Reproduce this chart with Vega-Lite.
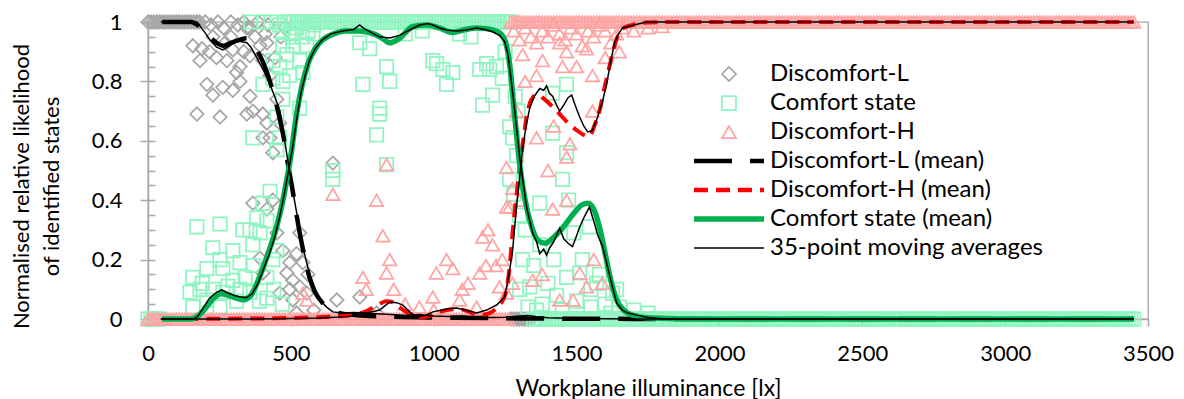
{
"$schema": "https://vega.github.io/schema/vega-lite/v6.json",
"width": 1000, "height": 297, "autosize": "none",
"padding": {"left": 148, "top": 22, "right": 36, "bottom": 80},
"datasets": {
"L": [{"x":0,"y":1},{"x":10,"y":1},{"x":20,"y":1},{"x":30,"y":1},{"x":40,"y":1},{"x":50,"y":1},{"x":60,"y":1},{"x":70,"y":1},{"x":80,"y":1},{"x":90,"y":1},{"x":100,"y":1},{"x":110,"y":1},{"x":120,"y":1},{"x":130,"y":1},{"x":140,"y":1},{"x":150,"y":1},{"x":160,"y":1},{"x":170,"y":1},{"x":180,"y":1},
{"x":200,"y":1},{"x":220,"y":0.99},{"x":245,"y":1},{"x":265,"y":0.98},{"x":290,"y":1},{"x":315,"y":0.99},{"x":335,"y":1},{"x":355,"y":0.98},{"x":385,"y":1},{"x":420,"y":0.99},
{"x":157,"y":0.92},{"x":171,"y":0.69},{"x":182,"y":0.87},{"x":189,"y":0.91},{"x":206,"y":0.79},{"x":215,"y":0.9},{"x":227,"y":0.754},{"x":227,"y":0.95},{"x":240,"y":0.88},{"x":252,"y":0.68},{"x":262,"y":0.78},{"x":270,"y":0.93},{"x":276,"y":0.87},{"x":290,"y":0.95},{"x":297,"y":0.77},{"x":297,"y":0.906},{"x":310,"y":0.83},{"x":322,"y":0.8},{"x":322,"y":0.85},{"x":335,"y":0.9},{"x":346,"y":0.98},{"x":346,"y":0.69},{"x":357,"y":0.75},{"x":357,"y":0.886},{"x":367,"y":0.7},{"x":367,"y":0.39},{"x":375,"y":0.95},{"x":392,"y":0.92},{"x":392,"y":0.205},{"x":402,"y":0.69},{"x":402,"y":0.87},{"x":402,"y":0.61},{"x":402,"y":0.155},{"x":410,"y":0.96},{"x":416,"y":0.66},{"x":416,"y":0.93},{"x":416,"y":0.37},{"x":427,"y":0.61},{"x":427,"y":0.82},{"x":437,"y":0.56},{"x":437,"y":0.4},{"x":445,"y":0.88},{"x":451,"y":0.74},{"x":451,"y":0.29},{"x":461,"y":0.66},{"x":461,"y":0.087},{"x":465,"y":0.95},{"x":472,"y":0.23},{"x":480,"y":0.98},{"x":486,"y":0.155},{"x":496,"y":0.19},{"x":496,"y":0.1},{"x":507,"y":0.13},{"x":507,"y":0.064},{"x":520,"y":0.22},{"x":531,"y":0.108},{"x":531,"y":0.29},{"x":542,"y":0.19},{"x":556,"y":0.087},{"x":560,"y":0.15},{"x":520,"y":0.02},{"x":580,"y":0.03},{"x":647,"y":0.525},{"x":661,"y":0.064},{"x":741,"y":0.074},{"x":800,"y":0.02},
{"x":1270,"y":0},{"x":1280,"y":0},{"x":1290,"y":0},{"x":1300,"y":0},{"x":1310,"y":0},{"x":1320,"y":0},{"x":1330,"y":0},{"x":1340,"y":0}],
"C": [{"x":0,"y":0},{"x":10,"y":0},{"x":20,"y":0},{"x":30,"y":0},{"x":40,"y":0},
{"x":171,"y":0.31},{"x":252,"y":0.32},{"x":157,"y":0.14},{"x":182,"y":0.1},{"x":206,"y":0.064},{"x":227,"y":0.24},{"x":252,"y":0.2},{"x":297,"y":0.23},{"x":322,"y":0.19},{"x":332,"y":0.3},{"x":357,"y":0.3},{"x":381,"y":0.34},{"x":392,"y":0.29},{"x":416,"y":0.33},{"x":427,"y":0.43},{"x":402,"y":0.39},{"x":367,"y":0.25},{"x":297,"y":0.13},{"x":322,"y":0.1},{"x":367,"y":0.18},{"x":416,"y":0.14},{"x":437,"y":0.2},{"x":451,"y":0.23},{"x":227,"y":0.1},{"x":262,"y":0.09},{"x":357,"y":0.09},{"x":147,"y":0.09},{"x":157,"y":0.04},{"x":252,"y":0.04},{"x":416,"y":0.07},{"x":206,"y":0.17},{"x":262,"y":0.17},{"x":190,"y":0.12},{"x":280,"y":0.11},{"x":340,"y":0.14},{"x":310,"y":0.06},{"x":390,"y":0.06},{"x":440,"y":0.1},{"x":470,"y":0.05},
{"x":360,"y":1},{"x":404,"y":1},{"x":430,"y":1},{"x":460,"y":0.99},{"x":470,"y":0.97},{"x":500,"y":0.96},{"x":520,"y":0.98},{"x":540,"y":0.95},{"x":560,"y":0.97},{"x":580,"y":0.99},
{"x":367,"y":0.61},{"x":451,"y":0.68},{"x":472,"y":0.74},{"x":402,"y":0.79},{"x":437,"y":0.81},{"x":461,"y":0.85},{"x":486,"y":0.89},{"x":507,"y":0.92},{"x":531,"y":0.87},{"x":542,"y":0.83},{"x":496,"y":0.82},{"x":472,"y":0.8},{"x":531,"y":0.71},{"x":461,"y":0.61},{"x":451,"y":0.57},{"x":507,"y":0.95},{"x":556,"y":0.92},{"x":577,"y":0.96},{"x":472,"y":0.92},{"x":437,"y":0.87},{"x":647,"y":0.5},{"x":647,"y":0.47},{"x":752,"y":0.79},{"x":741,"y":0.93},{"x":776,"y":0.91},{"x":835,"y":0.85},{"x":846,"y":0.8},{"x":811,"y":0.71},{"x":811,"y":0.69},{"x":800,"y":0.62},{"x":835,"y":0.52},
{"x":997,"y":0.87},{"x":1032,"y":0.84},{"x":1067,"y":0.83},{"x":1045,"y":0.79},{"x":1161,"y":0.84},{"x":1196,"y":0.84},{"x":1206,"y":0.754},{"x":1171,"y":0.72},{"x":1220,"y":0.85},{"x":1240,"y":0.81},{"x":900,"y":0.96},{"x":960,"y":0.97},{"x":1090,"y":0.96},{"x":1130,"y":0.95},{"x":1250,"y":0.9},{"x":1010,"y":0.86},{"x":1185,"y":0.86},
{"x":480,"y":1},{"x":490,"y":1},{"x":500,"y":1},{"x":510,"y":1},{"x":520,"y":1},{"x":530,"y":1},{"x":540,"y":1},{"x":550,"y":1},{"x":560,"y":1},{"x":570,"y":1},{"x":580,"y":1},{"x":590,"y":1},{"x":600,"y":1},{"x":610,"y":1},{"x":620,"y":1},{"x":630,"y":1},{"x":640,"y":1},{"x":650,"y":1},{"x":660,"y":1},{"x":670,"y":1},{"x":680,"y":1},{"x":690,"y":1},{"x":700,"y":1},{"x":710,"y":1},{"x":720,"y":1},{"x":730,"y":1},{"x":740,"y":1},{"x":750,"y":1},{"x":760,"y":1},{"x":770,"y":1},{"x":780,"y":1},{"x":790,"y":1},{"x":800,"y":1},{"x":810,"y":1},{"x":820,"y":1},{"x":830,"y":1},{"x":840,"y":1},{"x":850,"y":1},{"x":860,"y":1},{"x":870,"y":1},{"x":880,"y":1},{"x":890,"y":1},{"x":900,"y":1},{"x":910,"y":1},{"x":920,"y":1},{"x":930,"y":1},{"x":940,"y":1},{"x":950,"y":1},{"x":960,"y":1},{"x":970,"y":1},{"x":980,"y":1},{"x":990,"y":1},{"x":1000,"y":1},{"x":1010,"y":1},{"x":1020,"y":1},{"x":1030,"y":1},{"x":1040,"y":1},{"x":1050,"y":1},{"x":1060,"y":1},{"x":1070,"y":1},{"x":1080,"y":1},{"x":1090,"y":1},{"x":1100,"y":1},{"x":1110,"y":1},{"x":1120,"y":1},{"x":1130,"y":1},{"x":1140,"y":1},{"x":1150,"y":1},{"x":1160,"y":1},{"x":1170,"y":1},{"x":1180,"y":1},{"x":1190,"y":1},{"x":1200,"y":1},{"x":1210,"y":1},{"x":1220,"y":1},{"x":1230,"y":1},{"x":1240,"y":1},{"x":1250,"y":1},{"x":1260,"y":1},{"x":1270,"y":1},
{"x":1266,"y":0.647},{"x":1276,"y":0.61},{"x":1266,"y":0.47},{"x":1416,"y":0.626},{"x":1465,"y":0.56},{"x":1371,"y":0.39},{"x":1451,"y":0.47},{"x":1472,"y":0.4},{"x":1545,"y":0.31},{"x":1465,"y":0.14},{"x":1511,"y":0.155},{"x":1570,"y":0.12},{"x":1626,"y":0.087},{"x":1336,"y":0.108},{"x":1311,"y":0.2},{"x":1371,"y":0.25},{"x":1301,"y":0.1},{"x":1465,"y":0.79},{"x":1416,"y":0.76},{"x":1290,"y":0.55},{"x":1300,"y":0.35},{"x":1320,"y":0.3},{"x":1350,"y":0.18},{"x":1400,"y":0.12},{"x":1430,"y":0.08},{"x":1500,"y":0.06},{"x":1550,"y":0.1},{"x":1600,"y":0.05},{"x":1650,"y":0.04},{"x":1700,"y":0.03},{"x":1750,"y":0.02},{"x":1380,"y":0.05},{"x":1420,"y":0.2},{"x":1520,"y":0.2},{"x":1490,"y":0.29},{"x":1580,"y":0.15},{"x":1640,"y":0.1},{"x":1280,"y":0.42},{"x":1285,"y":0.75},{"x":1295,"y":0.7},{"x":1330,"y":0.04},{"x":1360,"y":0.03},{"x":1450,"y":0.03},{"x":1550,"y":0.04},{"x":1620,"y":0.02},
{"x":1350,"y":0},{"x":1360,"y":0},{"x":1370,"y":0},{"x":1380,"y":0},{"x":1390,"y":0},{"x":1400,"y":0},{"x":1410,"y":0},{"x":1420,"y":0},{"x":1430,"y":0},{"x":1440,"y":0},{"x":1450,"y":0},{"x":1460,"y":0},{"x":1470,"y":0},{"x":1480,"y":0},{"x":1490,"y":0},{"x":1500,"y":0},{"x":1510,"y":0},{"x":1520,"y":0},{"x":1530,"y":0},{"x":1540,"y":0},{"x":1550,"y":0},{"x":1560,"y":0},{"x":1570,"y":0},{"x":1580,"y":0},{"x":1590,"y":0},{"x":1600,"y":0},{"x":1610,"y":0},{"x":1620,"y":0},{"x":1630,"y":0},{"x":1640,"y":0},{"x":1650,"y":0},{"x":1660,"y":0},{"x":1670,"y":0},{"x":1680,"y":0},{"x":1690,"y":0},{"x":1700,"y":0},{"x":1710,"y":0},{"x":1720,"y":0},{"x":1730,"y":0},{"x":1740,"y":0},{"x":1750,"y":0},{"x":1760,"y":0},{"x":1770,"y":0},{"x":1780,"y":0},{"x":1790,"y":0},{"x":1800,"y":0},{"x":1810,"y":0},{"x":1820,"y":0},{"x":1830,"y":0},{"x":1840,"y":0},{"x":1850,"y":0},{"x":1860,"y":0},{"x":1870,"y":0},{"x":1880,"y":0},{"x":1890,"y":0},{"x":1900,"y":0},{"x":1910,"y":0},{"x":1920,"y":0},{"x":1930,"y":0},{"x":1940,"y":0},{"x":1950,"y":0},{"x":1960,"y":0},{"x":1970,"y":0},{"x":1980,"y":0},{"x":1990,"y":0},{"x":2000,"y":0},{"x":2010,"y":0},{"x":2020,"y":0},{"x":2030,"y":0},{"x":2040,"y":0},{"x":2050,"y":0},{"x":2060,"y":0},{"x":2070,"y":0},{"x":2080,"y":0},{"x":2090,"y":0},{"x":2100,"y":0},{"x":2110,"y":0},{"x":2120,"y":0},{"x":2130,"y":0},{"x":2140,"y":0},{"x":2150,"y":0},{"x":2160,"y":0},{"x":2170,"y":0},{"x":2180,"y":0},{"x":2190,"y":0},{"x":2200,"y":0},{"x":2210,"y":0},{"x":2220,"y":0},{"x":2230,"y":0},{"x":2240,"y":0},{"x":2250,"y":0},{"x":2260,"y":0},{"x":2270,"y":0},{"x":2280,"y":0},{"x":2290,"y":0},{"x":2300,"y":0},{"x":2310,"y":0},{"x":2320,"y":0},{"x":2330,"y":0},{"x":2340,"y":0},{"x":2350,"y":0},{"x":2360,"y":0},{"x":2370,"y":0},{"x":2380,"y":0},{"x":2390,"y":0},{"x":2400,"y":0},{"x":2410,"y":0},{"x":2420,"y":0},{"x":2430,"y":0},{"x":2440,"y":0},{"x":2450,"y":0},{"x":2460,"y":0},{"x":2470,"y":0},{"x":2480,"y":0},{"x":2490,"y":0},{"x":2500,"y":0},{"x":2510,"y":0},{"x":2520,"y":0},{"x":2530,"y":0},{"x":2540,"y":0},{"x":2550,"y":0},{"x":2560,"y":0},{"x":2570,"y":0},{"x":2580,"y":0},{"x":2590,"y":0},{"x":2600,"y":0},{"x":2610,"y":0},{"x":2620,"y":0},{"x":2630,"y":0},{"x":2640,"y":0},{"x":2650,"y":0},{"x":2660,"y":0},{"x":2670,"y":0},{"x":2680,"y":0},{"x":2690,"y":0},{"x":2700,"y":0},{"x":2710,"y":0},{"x":2720,"y":0},{"x":2730,"y":0},{"x":2740,"y":0},{"x":2750,"y":0},{"x":2760,"y":0},{"x":2770,"y":0},{"x":2780,"y":0},{"x":2790,"y":0},{"x":2800,"y":0},{"x":2810,"y":0},{"x":2820,"y":0},{"x":2830,"y":0},{"x":2840,"y":0},{"x":2850,"y":0},{"x":2860,"y":0},{"x":2870,"y":0},{"x":2880,"y":0},{"x":2890,"y":0},{"x":2900,"y":0},{"x":2910,"y":0},{"x":2920,"y":0},{"x":2930,"y":0},{"x":2940,"y":0},{"x":2950,"y":0},{"x":2960,"y":0},{"x":2970,"y":0},{"x":2980,"y":0},{"x":2990,"y":0},{"x":3000,"y":0},{"x":3010,"y":0},{"x":3020,"y":0},{"x":3030,"y":0},{"x":3040,"y":0},{"x":3050,"y":0},{"x":3060,"y":0},{"x":3070,"y":0},{"x":3080,"y":0},{"x":3090,"y":0},{"x":3100,"y":0},{"x":3110,"y":0},{"x":3120,"y":0},{"x":3130,"y":0},{"x":3140,"y":0},{"x":3150,"y":0},{"x":3160,"y":0},{"x":3170,"y":0},{"x":3180,"y":0},{"x":3190,"y":0},{"x":3200,"y":0},{"x":3210,"y":0},{"x":3220,"y":0},{"x":3230,"y":0},{"x":3240,"y":0},{"x":3250,"y":0},{"x":3260,"y":0},{"x":3270,"y":0},{"x":3280,"y":0},{"x":3290,"y":0},{"x":3300,"y":0},{"x":3310,"y":0},{"x":3320,"y":0},{"x":3330,"y":0},{"x":3340,"y":0},{"x":3350,"y":0},{"x":3360,"y":0},{"x":3370,"y":0},{"x":3380,"y":0},{"x":3390,"y":0},{"x":3400,"y":0},{"x":3410,"y":0},{"x":3420,"y":0},{"x":3430,"y":0},{"x":3440,"y":0},{"x":3450,"y":0}],
"H": [{"x":0,"y":0},{"x":10,"y":0},{"x":20,"y":0},{"x":30,"y":0},{"x":40,"y":0},{"x":50,"y":0},{"x":60,"y":0},{"x":70,"y":0},{"x":80,"y":0},{"x":90,"y":0},{"x":100,"y":0},{"x":110,"y":0},{"x":120,"y":0},{"x":130,"y":0},{"x":140,"y":0},{"x":150,"y":0},{"x":160,"y":0},{"x":170,"y":0},{"x":180,"y":0},{"x":190,"y":0},{"x":200,"y":0},{"x":210,"y":0},{"x":220,"y":0},{"x":230,"y":0},{"x":240,"y":0},{"x":250,"y":0},{"x":260,"y":0},{"x":270,"y":0},{"x":280,"y":0},{"x":290,"y":0},{"x":300,"y":0},{"x":310,"y":0},{"x":320,"y":0},{"x":330,"y":0},{"x":340,"y":0},{"x":350,"y":0},{"x":360,"y":0},{"x":370,"y":0},{"x":380,"y":0},{"x":390,"y":0},{"x":400,"y":0},{"x":410,"y":0},{"x":420,"y":0},{"x":430,"y":0},{"x":440,"y":0},{"x":450,"y":0},{"x":460,"y":0},{"x":470,"y":0},{"x":480,"y":0},{"x":490,"y":0},{"x":500,"y":0},{"x":510,"y":0},{"x":520,"y":0},{"x":530,"y":0},{"x":540,"y":0},{"x":550,"y":0},{"x":560,"y":0},{"x":570,"y":0},{"x":580,"y":0},{"x":590,"y":0},{"x":600,"y":0},{"x":610,"y":0},{"x":620,"y":0},{"x":630,"y":0},{"x":640,"y":0},{"x":650,"y":0},{"x":660,"y":0},{"x":670,"y":0},{"x":680,"y":0},{"x":690,"y":0},{"x":700,"y":0},{"x":710,"y":0},{"x":720,"y":0},{"x":730,"y":0},{"x":740,"y":0},{"x":750,"y":0},{"x":760,"y":0},{"x":770,"y":0},{"x":780,"y":0},{"x":790,"y":0},{"x":800,"y":0},{"x":810,"y":0},{"x":820,"y":0},{"x":830,"y":0},{"x":840,"y":0},{"x":850,"y":0},{"x":860,"y":0},{"x":870,"y":0},{"x":880,"y":0},{"x":890,"y":0},{"x":900,"y":0},{"x":910,"y":0},{"x":920,"y":0},{"x":930,"y":0},{"x":940,"y":0},{"x":950,"y":0},{"x":960,"y":0},{"x":970,"y":0},{"x":980,"y":0},{"x":990,"y":0},{"x":1000,"y":0},{"x":1010,"y":0},{"x":1020,"y":0},{"x":1030,"y":0},{"x":1040,"y":0},{"x":1050,"y":0},{"x":1060,"y":0},{"x":1070,"y":0},{"x":1080,"y":0},{"x":1090,"y":0},{"x":1100,"y":0},{"x":1110,"y":0},{"x":1120,"y":0},{"x":1130,"y":0},{"x":1140,"y":0},{"x":1150,"y":0},{"x":1160,"y":0},{"x":1170,"y":0},{"x":1180,"y":0},{"x":1190,"y":0},{"x":1200,"y":0},{"x":1210,"y":0},{"x":1220,"y":0},{"x":1230,"y":0},{"x":1240,"y":0},{"x":1250,"y":0},{"x":1260,"y":0},
{"x":542,"y":0.087},{"x":556,"y":0.064},{"x":647,"y":0.42},{"x":752,"y":0.14},{"x":764,"y":0.1},{"x":800,"y":0.4},{"x":822,"y":0.28},{"x":835,"y":0.52},{"x":835,"y":0.155},{"x":846,"y":0.2},{"x":860,"y":0.1},{"x":900,"y":0.05},{"x":950,"y":0.04},{"x":997,"y":0.074},{"x":1009,"y":0.155},{"x":1045,"y":0.2},{"x":1067,"y":0.17},{"x":1091,"y":0.064},{"x":1150,"y":0.04},{"x":1161,"y":0.155},{"x":1171,"y":0.276},{"x":1183,"y":0.18},{"x":1206,"y":0.25},{"x":1218,"y":0.18},{"x":1230,"y":0.108},{"x":1255,"y":0.377},{"x":1255,"y":0.51},{"x":1266,"y":0.377},{"x":1276,"y":0.44},{"x":1301,"y":0.4},{"x":1255,"y":0.087},{"x":1276,"y":0.12},{"x":1346,"y":0.13},{"x":1360,"y":0.61},{"x":1416,"y":0.37},{"x":1465,"y":0.4},{"x":1465,"y":0.545},{"x":1477,"y":0.59},{"x":1451,"y":0.85},{"x":1465,"y":0.9},{"x":1311,"y":0.89},{"x":1381,"y":0.87},{"x":1360,"y":0.82},{"x":1441,"y":0.93},{"x":1556,"y":0.82},{"x":1556,"y":0.7},{"x":1535,"y":0.91},{"x":1511,"y":0.155},{"x":1535,"y":0.108},{"x":1488,"y":0.064},{"x":1441,"y":0.064},{"x":1290,"y":0.7},{"x":1320,"y":0.8},{"x":1400,"y":0.5},{"x":1500,"y":0.85},{"x":1600,"y":0.88},{"x":1650,"y":0.9},{"x":1420,"y":0.65},{"x":1380,"y":0.15},{"x":1560,"y":0.2},{"x":1590,"y":0.12},{"x":1100,"y":0.1},{"x":1120,"y":0.12},{"x":1190,"y":0.3},{"x":1000,"y":0.03},{"x":1240,"y":0.2},
{"x":1280,"y":0.97},{"x":1300,"y":0.94},{"x":1320,"y":0.98},{"x":1340,"y":0.95},{"x":1360,"y":0.93},{"x":1380,"y":0.97},{"x":1400,"y":0.95},{"x":1420,"y":0.99},{"x":1440,"y":0.96},{"x":1460,"y":0.94},{"x":1480,"y":0.98},{"x":1500,"y":0.96},{"x":1520,"y":0.92},{"x":1540,"y":0.97},{"x":1560,"y":0.95},{"x":1580,"y":0.99},{"x":1600,"y":0.97},{"x":1620,"y":0.93},{"x":1640,"y":0.96},{"x":1660,"y":0.98},{"x":1700,"y":0.97},{"x":1750,"y":0.98},{"x":1800,"y":0.985},
{"x":1270,"y":1},{"x":1280,"y":1},{"x":1290,"y":1},{"x":1300,"y":1},{"x":1310,"y":1},{"x":1320,"y":1},{"x":1330,"y":1},{"x":1340,"y":1},{"x":1350,"y":1},{"x":1360,"y":1},{"x":1370,"y":1},{"x":1380,"y":1},{"x":1390,"y":1},{"x":1400,"y":1},{"x":1410,"y":1},{"x":1420,"y":1},{"x":1430,"y":1},{"x":1440,"y":1},{"x":1450,"y":1},{"x":1460,"y":1},{"x":1470,"y":1},{"x":1480,"y":1},{"x":1490,"y":1},{"x":1500,"y":1},{"x":1510,"y":1},{"x":1520,"y":1},{"x":1530,"y":1},{"x":1540,"y":1},{"x":1550,"y":1},{"x":1560,"y":1},{"x":1570,"y":1},{"x":1580,"y":1},{"x":1590,"y":1},{"x":1600,"y":1},{"x":1610,"y":1},{"x":1620,"y":1},{"x":1630,"y":1},{"x":1640,"y":1},{"x":1650,"y":1},{"x":1660,"y":1},{"x":1670,"y":1},{"x":1680,"y":1},{"x":1690,"y":1},{"x":1700,"y":1},{"x":1710,"y":1},{"x":1720,"y":1},{"x":1730,"y":1},{"x":1740,"y":1},{"x":1750,"y":1},{"x":1760,"y":1},{"x":1770,"y":1},{"x":1780,"y":1},{"x":1790,"y":1},{"x":1800,"y":1},{"x":1810,"y":1},{"x":1820,"y":1},{"x":1830,"y":1},{"x":1840,"y":1},{"x":1850,"y":1},{"x":1860,"y":1},{"x":1870,"y":1},{"x":1880,"y":1},{"x":1890,"y":1},{"x":1900,"y":1},{"x":1910,"y":1},{"x":1920,"y":1},{"x":1930,"y":1},{"x":1940,"y":1},{"x":1950,"y":1},{"x":1960,"y":1},{"x":1970,"y":1},{"x":1980,"y":1},{"x":1990,"y":1},{"x":2000,"y":1},{"x":2010,"y":1},{"x":2020,"y":1},{"x":2030,"y":1},{"x":2040,"y":1},{"x":2050,"y":1},{"x":2060,"y":1},{"x":2070,"y":1},{"x":2080,"y":1},{"x":2090,"y":1},{"x":2100,"y":1},{"x":2110,"y":1},{"x":2120,"y":1},{"x":2130,"y":1},{"x":2140,"y":1},{"x":2150,"y":1},{"x":2160,"y":1},{"x":2170,"y":1},{"x":2180,"y":1},{"x":2190,"y":1},{"x":2200,"y":1},{"x":2210,"y":1},{"x":2220,"y":1},{"x":2230,"y":1},{"x":2240,"y":1},{"x":2250,"y":1},{"x":2260,"y":1},{"x":2270,"y":1},{"x":2280,"y":1},{"x":2290,"y":1},{"x":2300,"y":1},{"x":2310,"y":1},{"x":2320,"y":1},{"x":2330,"y":1},{"x":2340,"y":1},{"x":2350,"y":1},{"x":2360,"y":1},{"x":2370,"y":1},{"x":2380,"y":1},{"x":2390,"y":1},{"x":2400,"y":1},{"x":2410,"y":1},{"x":2420,"y":1},{"x":2430,"y":1},{"x":2440,"y":1},{"x":2450,"y":1},{"x":2460,"y":1},{"x":2470,"y":1},{"x":2480,"y":1},{"x":2490,"y":1},{"x":2500,"y":1},{"x":2510,"y":1},{"x":2520,"y":1},{"x":2530,"y":1},{"x":2540,"y":1},{"x":2550,"y":1},{"x":2560,"y":1},{"x":2570,"y":1},{"x":2580,"y":1},{"x":2590,"y":1},{"x":2600,"y":1},{"x":2610,"y":1},{"x":2620,"y":1},{"x":2630,"y":1},{"x":2640,"y":1},{"x":2650,"y":1},{"x":2660,"y":1},{"x":2670,"y":1},{"x":2680,"y":1},{"x":2690,"y":1},{"x":2700,"y":1},{"x":2710,"y":1},{"x":2720,"y":1},{"x":2730,"y":1},{"x":2740,"y":1},{"x":2750,"y":1},{"x":2760,"y":1},{"x":2770,"y":1},{"x":2780,"y":1},{"x":2790,"y":1},{"x":2800,"y":1},{"x":2810,"y":1},{"x":2820,"y":1},{"x":2830,"y":1},{"x":2840,"y":1},{"x":2850,"y":1},{"x":2860,"y":1},{"x":2870,"y":1},{"x":2880,"y":1},{"x":2890,"y":1},{"x":2900,"y":1},{"x":2910,"y":1},{"x":2920,"y":1},{"x":2930,"y":1},{"x":2940,"y":1},{"x":2950,"y":1},{"x":2960,"y":1},{"x":2970,"y":1},{"x":2980,"y":1},{"x":2990,"y":1},{"x":3000,"y":1},{"x":3010,"y":1},{"x":3020,"y":1},{"x":3030,"y":1},{"x":3040,"y":1},{"x":3050,"y":1},{"x":3060,"y":1},{"x":3070,"y":1},{"x":3080,"y":1},{"x":3090,"y":1},{"x":3100,"y":1},{"x":3110,"y":1},{"x":3120,"y":1},{"x":3130,"y":1},{"x":3140,"y":1},{"x":3150,"y":1},{"x":3160,"y":1},{"x":3170,"y":1},{"x":3180,"y":1},{"x":3190,"y":1},{"x":3200,"y":1},{"x":3210,"y":1},{"x":3220,"y":1},{"x":3230,"y":1},{"x":3240,"y":1},{"x":3250,"y":1},{"x":3260,"y":1},{"x":3270,"y":1},{"x":3280,"y":1},{"x":3290,"y":1},{"x":3300,"y":1},{"x":3310,"y":1},{"x":3320,"y":1},{"x":3330,"y":1},{"x":3340,"y":1},{"x":3350,"y":1},{"x":3360,"y":1},{"x":3370,"y":1},{"x":3380,"y":1},{"x":3390,"y":1},{"x":3400,"y":1},{"x":3410,"y":1},{"x":3420,"y":1},{"x":3430,"y":1},{"x":3440,"y":1},{"x":3450,"y":1}],
"mL": [{"x":50,"y":1},{"x":100,"y":1},{"x":150,"y":1},{"x":180,"y":0.985},{"x":210,"y":0.955},{"x":240,"y":0.93},{"x":265,"y":0.92},{"x":290,"y":0.93},{"x":320,"y":0.94},{"x":345,"y":0.945},{"x":370,"y":0.92},{"x":400,"y":0.87},{"x":430,"y":0.79},{"x":455,"y":0.7},{"x":475,"y":0.61},{"x":490,"y":0.52},{"x":505,"y":0.44},{"x":520,"y":0.35},{"x":535,"y":0.27},{"x":550,"y":0.2},{"x":565,"y":0.14},{"x":585,"y":0.09},{"x":610,"y":0.055},{"x":640,"y":0.03},{"x":680,"y":0.018},{"x":750,"y":0.012},{"x":850,"y":0.008},{"x":1000,"y":0.005},{"x":1200,"y":0.003},{"x":1300,"y":0.002},{"x":1500,"y":0.001},{"x":2000,"y":0},{"x":3450,"y":0}],
"mC": [{"x":50,"y":0},{"x":150,"y":0},{"x":175,"y":0.01},{"x":200,"y":0.035},{"x":230,"y":0.07},{"x":255,"y":0.085},{"x":280,"y":0.08},{"x":310,"y":0.07},{"x":335,"y":0.065},{"x":360,"y":0.08},{"x":390,"y":0.14},{"x":420,"y":0.22},{"x":450,"y":0.31},{"x":470,"y":0.39},{"x":486,"y":0.47},{"x":500,"y":0.55},{"x":520,"y":0.69},{"x":540,"y":0.79},{"x":560,"y":0.86},{"x":585,"y":0.91},{"x":612,"y":0.94},{"x":650,"y":0.96},{"x":690,"y":0.97},{"x":740,"y":0.97},{"x":790,"y":0.96},{"x":820,"y":0.945},{"x":846,"y":0.93},{"x":880,"y":0.945},{"x":927,"y":0.985},{"x":975,"y":0.99},{"x":1020,"y":0.98},{"x":1066,"y":0.965},{"x":1110,"y":0.975},{"x":1150,"y":0.98},{"x":1200,"y":0.975},{"x":1235,"y":0.96},{"x":1255,"y":0.92},{"x":1268,"y":0.84},{"x":1280,"y":0.72},{"x":1292,"y":0.6},{"x":1305,"y":0.49},{"x":1320,"y":0.4},{"x":1340,"y":0.32},{"x":1365,"y":0.265},{"x":1390,"y":0.255},{"x":1420,"y":0.275},{"x":1450,"y":0.305},{"x":1490,"y":0.355},{"x":1520,"y":0.385},{"x":1540,"y":0.39},{"x":1560,"y":0.37},{"x":1580,"y":0.31},{"x":1600,"y":0.22},{"x":1620,"y":0.13},{"x":1640,"y":0.065},{"x":1665,"y":0.03},{"x":1700,"y":0.012},{"x":1750,"y":0.004},{"x":1850,"y":0.001},{"x":2000,"y":0},{"x":3450,"y":0}],
"mH": [{"x":50,"y":0},{"x":400,"y":0.002},{"x":600,"y":0.006},{"x":700,"y":0.012},{"x":760,"y":0.025},{"x":800,"y":0.045},{"x":835,"y":0.06},{"x":860,"y":0.055},{"x":880,"y":0.04},{"x":910,"y":0.02},{"x":950,"y":0.005},{"x":990,"y":0.012},{"x":1020,"y":0.024},{"x":1060,"y":0.032},{"x":1091,"y":0.033},{"x":1130,"y":0.022},{"x":1161,"y":0.013},{"x":1195,"y":0.02},{"x":1220,"y":0.036},{"x":1240,"y":0.06},{"x":1255,"y":0.1},{"x":1265,"y":0.17},{"x":1276,"y":0.29},{"x":1288,"y":0.4},{"x":1301,"y":0.51},{"x":1313,"y":0.6},{"x":1325,"y":0.68},{"x":1340,"y":0.735},{"x":1360,"y":0.755},{"x":1381,"y":0.745},{"x":1410,"y":0.72},{"x":1441,"y":0.69},{"x":1470,"y":0.66},{"x":1500,"y":0.636},{"x":1525,"y":0.62},{"x":1545,"y":0.615},{"x":1562,"y":0.65},{"x":1580,"y":0.7},{"x":1598,"y":0.78},{"x":1615,"y":0.85},{"x":1630,"y":0.91},{"x":1645,"y":0.955},{"x":1665,"y":0.98},{"x":1696,"y":0.99},{"x":1745,"y":0.998},{"x":1850,"y":1},{"x":3450,"y":1}],
"aL": [{"x":45,"y":1},{"x":100,"y":1},{"x":171,"y":1},{"x":195,"y":0.97},{"x":217,"y":0.94},{"x":240,"y":0.915},{"x":262,"y":0.906},{"x":285,"y":0.92},{"x":300,"y":0.93},{"x":322,"y":0.935},{"x":346,"y":0.93},{"x":360,"y":0.915},{"x":381,"y":0.88},{"x":405,"y":0.835},{"x":427,"y":0.79},{"x":445,"y":0.745},{"x":462,"y":0.7},{"x":475,"y":0.62},{"x":490,"y":0.53},{"x":505,"y":0.44},{"x":520,"y":0.36},{"x":535,"y":0.28},{"x":550,"y":0.21},{"x":566,"y":0.15},{"x":585,"y":0.1},{"x":601,"y":0.064},{"x":625,"y":0.04},{"x":647,"y":0.024},{"x":680,"y":0.02},{"x":720,"y":0.022},{"x":760,"y":0.02},{"x":800,"y":0.018},{"x":850,"y":0.015},{"x":900,"y":0.012},{"x":950,"y":0.015},{"x":1000,"y":0.01},{"x":1050,"y":0.008},{"x":1100,"y":0.01},{"x":1150,"y":0.006},{"x":1200,"y":0.005},{"x":1250,"y":0.006},{"x":1300,"y":0.01},{"x":1330,"y":0.012},{"x":1360,"y":0.008},{"x":1400,"y":0.004},{"x":1500,"y":0.002},{"x":1600,"y":0.001},{"x":1700,"y":0},{"x":3450,"y":0}],
"aC": [{"x":45,"y":0},{"x":100,"y":0},{"x":160,"y":0},{"x":175,"y":0.01},{"x":195,"y":0.04},{"x":215,"y":0.07},{"x":240,"y":0.09},{"x":258,"y":0.098},{"x":275,"y":0.09},{"x":300,"y":0.08},{"x":320,"y":0.075},{"x":345,"y":0.072},{"x":365,"y":0.085},{"x":385,"y":0.12},{"x":405,"y":0.17},{"x":425,"y":0.22},{"x":445,"y":0.28},{"x":460,"y":0.34},{"x":475,"y":0.41},{"x":490,"y":0.49},{"x":505,"y":0.57},{"x":520,"y":0.67},{"x":535,"y":0.76},{"x":550,"y":0.82},{"x":565,"y":0.87},{"x":585,"y":0.91},{"x":610,"y":0.94},{"x":640,"y":0.96},{"x":680,"y":0.97},{"x":720,"y":0.975},{"x":741,"y":0.99},{"x":753,"y":0.98},{"x":780,"y":0.965},{"x":810,"y":0.95},{"x":846,"y":0.946},{"x":880,"y":0.955},{"x":916,"y":0.973},{"x":951,"y":0.99},{"x":980,"y":0.995},{"x":997,"y":0.99},{"x":1020,"y":0.98},{"x":1045,"y":0.973},{"x":1080,"y":0.97},{"x":1115,"y":0.973},{"x":1150,"y":0.98},{"x":1180,"y":0.975},{"x":1206,"y":0.967},{"x":1230,"y":0.955},{"x":1248,"y":0.935},{"x":1260,"y":0.89},{"x":1273,"y":0.79},{"x":1287,"y":0.67},{"x":1301,"y":0.545},{"x":1313,"y":0.46},{"x":1325,"y":0.377},{"x":1346,"y":0.29},{"x":1360,"y":0.26},{"x":1371,"y":0.22},{"x":1385,"y":0.235},{"x":1395,"y":0.215},{"x":1406,"y":0.24},{"x":1420,"y":0.26},{"x":1441,"y":0.306},{"x":1455,"y":0.27},{"x":1470,"y":0.255},{"x":1486,"y":0.244},{"x":1500,"y":0.28},{"x":1511,"y":0.31},{"x":1525,"y":0.34},{"x":1545,"y":0.377},{"x":1560,"y":0.33},{"x":1575,"y":0.28},{"x":1591,"y":0.244},{"x":1605,"y":0.19},{"x":1620,"y":0.13},{"x":1640,"y":0.054},{"x":1660,"y":0.03},{"x":1680,"y":0.02},{"x":1710,"y":0.013},{"x":1750,"y":0.005},{"x":1800,"y":0.001},{"x":1850,"y":0},{"x":3450,"y":0}],
"aH": [{"x":45,"y":0},{"x":400,"y":0},{"x":600,"y":0.003},{"x":700,"y":0.008},{"x":760,"y":0.02},{"x":790,"y":0.025},{"x":811,"y":0.03},{"x":830,"y":0.045},{"x":846,"y":0.057},{"x":870,"y":0.055},{"x":892,"y":0.047},{"x":915,"y":0.025},{"x":940,"y":0.007},{"x":970,"y":0.012},{"x":997,"y":0.024},{"x":1030,"y":0.03},{"x":1055,"y":0.035},{"x":1080,"y":0.037},{"x":1110,"y":0.03},{"x":1150,"y":0.02},{"x":1185,"y":0.03},{"x":1220,"y":0.047},{"x":1248,"y":0.074},{"x":1262,"y":0.14},{"x":1276,"y":0.23},{"x":1290,"y":0.38},{"x":1311,"y":0.57},{"x":1323,"y":0.65},{"x":1336,"y":0.71},{"x":1352,"y":0.75},{"x":1371,"y":0.776},{"x":1385,"y":0.77},{"x":1395,"y":0.785},{"x":1405,"y":0.76},{"x":1416,"y":0.75},{"x":1430,"y":0.72},{"x":1441,"y":0.7},{"x":1455,"y":0.72},{"x":1470,"y":0.745},{"x":1483,"y":0.754},{"x":1495,"y":0.72},{"x":1511,"y":0.68},{"x":1525,"y":0.65},{"x":1539,"y":0.63},{"x":1555,"y":0.635},{"x":1570,"y":0.67},{"x":1590,"y":0.73},{"x":1605,"y":0.79},{"x":1620,"y":0.87},{"x":1633,"y":0.93},{"x":1647,"y":0.96},{"x":1661,"y":0.98},{"x":1700,"y":0.99},{"x":1745,"y":1},{"x":3450,"y":1}]
},
"layer": [
{"data":{"name":"L"},"mark":{"type":"point","filled":false,"size":180,"strokeWidth":1.75,"opacity":1},
 "encoding":{
  "x":{"field":"x","type":"quantitative","scale":{"domain":[0,3500],"nice":false,"zero":false},
       "axis":{"title":"Workplane illuminance [lx]","format":"d","values":[0,500,1000,1500,2000,2500,3000,3500],"tickSize":7,"labelPadding":17,"labelFlush":false,"titleY":76,"titleBaseline":"alphabetic","titleFontSize":23}},
  "y":{"field":"y","type":"quantitative","scale":{"domain":[0,1],"nice":false},
       "axis":{"orient":"left","title":["Normalised relative likelihood","of identified states"],"values":[0,0.2,0.4,0.6,0.8,1],"format":"~g","tickSize":8,"labelPadding":18,"titleX":-120,"titleY":164,"titleAngle":-90,"titleAlign":"center","titleBaseline":"alphabetic","titleLineHeight":30}},
  "shape":{"datum":"Discomfort-L","type":"nominal","scale":{"domain":["Discomfort-L","Comfort state","Discomfort-H"],"range":["diamond","square","triangle-up"]},
           "legend":{"title":null,"orient":"none","legendX":569,"legendY":40,"padding":0,"symbolSize":196,"symbolStrokeWidth":1.75,"labelOffset":29,"rowPadding":5,"labelFontSize":24,"symbolFillColor":"transparent"}},
  "stroke":{"datum":"Discomfort-L","type":"nominal","scale":{"domain":["Discomfort-L","Comfort state","Discomfort-H"],"range":["#a6a6a6","#8ff5c0","#ffa3a3"]},
           "legend":{"title":null,"orient":"none","legendX":569,"legendY":40,"padding":0,"symbolSize":196,"symbolStrokeWidth":1.75,"labelOffset":29,"rowPadding":5,"labelFontSize":24,"symbolFillColor":"transparent"}}
 }},
{"data":{"name":"C"},"mark":{"type":"point","filled":false,"size":180,"strokeWidth":1.75,"opacity":1},
 "encoding":{"x":{"field":"x","type":"quantitative"},"y":{"field":"y","type":"quantitative","axis":null},
  "shape":{"datum":"Comfort state","type":"nominal"},"stroke":{"datum":"Comfort state","type":"nominal"}}},
{"data":{"name":"H"},"mark":{"type":"point","filled":false,"size":180,"strokeWidth":1.75,"opacity":1},
 "encoding":{"x":{"field":"x","type":"quantitative"},"y":{"field":"y","type":"quantitative","axis":null},
  "shape":{"datum":"Discomfort-H","type":"nominal"},"stroke":{"datum":"Discomfort-H","type":"nominal"}}},
{"data":{"name":"mL"},"mark":{"type":"line","interpolate":"monotone","strokeWidth":4.5,"strokeDash":[38,18]},
 "encoding":{"x":{"field":"x","type":"quantitative"},
  "y":{"field":"y","type":"quantitative","axis":{"orient":"left","title":null,"labels":false,"domain":false,"offset":-7,"tickSize":7,"values":[0,0.05,0.1,0.15,0.2,0.25,0.3,0.35,0.4,0.45,0.5,0.55,0.6,0.65,0.7,0.75,0.8,0.85,0.9,0.95,1]}},
  "color":{"datum":"Discomfort-L (mean)","type":"nominal","scale":{"domain":["Discomfort-L (mean)","Discomfort-H (mean)","Comfort state (mean)","35-point moving averages"],"range":["#000000","#ff0000","#00b050","#000000"]},
           "legend":{"title":null,"orient":"none","legendX":569,"legendY":127,"padding":0,"symbolType":"M-5,0H5","symbolSize":196,"labelOffset":29,"rowPadding":5,"labelFontSize":24,"labelLimit":400,
             "encode":{"symbols":{"update":{
               "strokeWidth":{"signal":"datum.value === '35-point moving averages' ? 1.5 : datum.value === 'Comfort state (mean)' ? 5.5 : 4.5"},
               "strokeDash":{"signal":"datum.value === 'Discomfort-L (mean)' ? [38,18] : datum.value === 'Discomfort-H (mean)' ? [14,8] : [1,0]"}}}}}}
 }},
{"data":{"name":"mH"},"mark":{"type":"line","interpolate":"monotone","strokeWidth":4,"strokeDash":[14,8]},
 "encoding":{"x":{"field":"x","type":"quantitative"},"y":{"field":"y","type":"quantitative","axis":null},
  "color":{"datum":"Discomfort-H (mean)","type":"nominal"}}},
{"data":{"name":"mC"},"mark":{"type":"line","interpolate":"monotone","strokeWidth":5.5},
 "encoding":{"x":{"field":"x","type":"quantitative"},"y":{"field":"y","type":"quantitative","axis":null},
  "color":{"datum":"Comfort state (mean)","type":"nominal"}}},
{"data":{"name":"aL"},"mark":{"type":"line","strokeWidth":1.5},
 "encoding":{"x":{"field":"x","type":"quantitative"},"y":{"field":"y","type":"quantitative","axis":null},
  "color":{"datum":"35-point moving averages","type":"nominal"}}},
{"data":{"name":"aC"},"mark":{"type":"line","strokeWidth":1.5},
 "encoding":{"x":{"field":"x","type":"quantitative"},"y":{"field":"y","type":"quantitative","axis":null},
  "color":{"datum":"35-point moving averages","type":"nominal"}}},
{"data":{"name":"aH"},"mark":{"type":"line","strokeWidth":1.5},
 "encoding":{"x":{"field":"x","type":"quantitative"},"y":{"field":"y","type":"quantitative","axis":null},
  "color":{"datum":"35-point moving averages","type":"nominal"}}}
],
"resolve":{"axis":{"y":"independent"}},
"config":{
 "font":"Lato",
 "view":{"stroke":"#a6a6a6","strokeWidth":1.3},
 "axis":{"grid":false,"labelColor":"#000000","titleColor":"#000000","labelFont":"Lato","titleFont":"Lato","labelFontSize":22,"titleFontSize":22,"titleFontWeight":"normal","domainColor":"#a6a6a6","tickColor":"#a6a6a6","domainWidth":1.5,"tickWidth":1.5},
 "legend":{"labelFont":"Lato","labelColor":"#000000","labelFontSize":24}
}
}
